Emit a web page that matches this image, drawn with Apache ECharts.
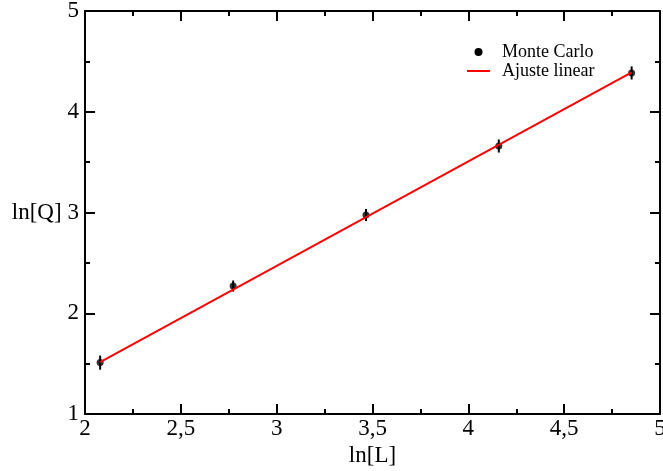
<!DOCTYPE html>
<html>
<head>
<meta charset="utf-8">
<script src="https://cdn.jsdelivr.net/npm/echarts@6/dist/echarts.min.js"></script>
<style>
  html, body { margin: 0; padding: 0; background: #fff; }
  #chart { width: 663px; height: 471px; }
</style>
</head>
<body>
<div id="chart"></div>
<script>
// ln of lattice sizes L = 8, 16, 32, 64, 128
const lnL = [2.079, 2.773, 3.466, 4.159, 4.852];
// Monte Carlo estimates of ln[Q] and their uncertainties
const lnQ = [1.51, 2.27, 2.975, 3.66, 4.385];
const lnQErr = [0.07, 0.055, 0.06, 0.065, 0.065];
// Endpoints of the linear fit
const fitX = [2.079, 4.852];
const fitY = [1.515, 4.39];

const FONT = 'Liberation Serif';
const black = '#000';

const mcPoints = lnL.map((x, i) => [x, lnQ[i]]);
const errData = lnL.map((x, i) => [x, lnQ[i], lnQErr[i]]);
const fitData = fitX.map((x, i) => [x, fitY[i]]);

function axisCommon(showLabel) {
  return {
    type: 'value',
    axisLine: { show: true, onZero: false, lineStyle: { color: black, width: 2 } },
    axisTick: { show: true, inside: true, length: 10, lineStyle: { color: black, width: 2 } },
    minorTick: { show: true, splitNumber: 2, length: 5, lineStyle: { color: black, width: 2 } },
    splitLine: { show: false },
    minorSplitLine: { show: false },
    axisLabel: { show: showLabel, color: black, fontFamily: FONT, fontSize: 23 }
  };
}

const xBottom = Object.assign(axisCommon(true), {
  position: 'bottom', min: 2, max: 5, interval: 0.5,
  name: 'ln[L]', nameLocation: 'middle', nameGap: 30,
  nameTextStyle: { color: black, fontFamily: FONT, fontSize: 23 }
});
xBottom.axisLabel.margin = 3;
xBottom.axisLabel.formatter = v => String(v).replace('.', ',');

const xTop = Object.assign(axisCommon(false), {
  position: 'top', min: 2, max: 5, interval: 0.5
});

const yLeft = Object.assign(axisCommon(true), {
  position: 'left', min: 1, max: 5, interval: 1,
  name: 'ln[Q]', nameLocation: 'middle', nameRotate: 0, nameGap: 23,
  nameTextStyle: { color: black, fontFamily: FONT, fontSize: 23 }
});
yLeft.axisLabel.margin = 6;

const yRight = Object.assign(axisCommon(false), {
  position: 'right', min: 1, max: 5, interval: 1
});

const chart = echarts.init(document.getElementById('chart'), null, { renderer: 'canvas' });
chart.setOption({
  animation: false,
  backgroundColor: '#fff',
  grid: { left: 85, right: 3, top: 11, bottom: 57, containLabel: false, outerBoundsMode: 'none' },
  xAxis: [xBottom, xTop],
  yAxis: [yLeft, yRight],
  legend: {
    orient: 'vertical',
    left: 467,
    top: 43,
    padding: 0,
    itemGap: 1,
    itemWidth: 23,
    itemHeight: 8,
    textStyle: { color: black, fontFamily: FONT, fontSize: 18, padding: [0, 0, 0, 7] },
    data: [
      { name: 'Monte Carlo', icon: 'circle' },
      { name: 'Ajuste linear', icon: 'path://M0,0H23V2H0Z' }
    ]
  },
  series: [
    {
      name: 'Monte Carlo',
      type: 'custom',
      xAxisIndex: 0, yAxisIndex: 0,
      data: errData,
      renderItem: function (params, api) {
        const x = api.value(0), y = api.value(1), e = api.value(2);
        const lo = api.coord([x, y - e]);
        const hi = api.coord([x, y + e]);
        return {
          type: 'line',
          shape: { x1: lo[0], y1: lo[1], x2: hi[0], y2: hi[1] },
          style: { stroke: black, lineWidth: 2 }
        };
      },
      itemStyle: { color: black },
      z: 2
    },
    {
      name: 'Monte Carlo',
      type: 'scatter',
      xAxisIndex: 0, yAxisIndex: 0,
      data: mcPoints,
      symbol: 'circle',
      symbolSize: 7,
      itemStyle: { color: black },
      z: 3
    },
    {
      name: 'Ajuste linear',
      type: 'line',
      xAxisIndex: 0, yAxisIndex: 0,
      data: fitData,
      symbol: 'none',
      lineStyle: { color: '#ff0000', width: 2 },
      itemStyle: { color: '#ff0000' },
      z: 4
    }
  ]
});
</script>
</body>
</html>
